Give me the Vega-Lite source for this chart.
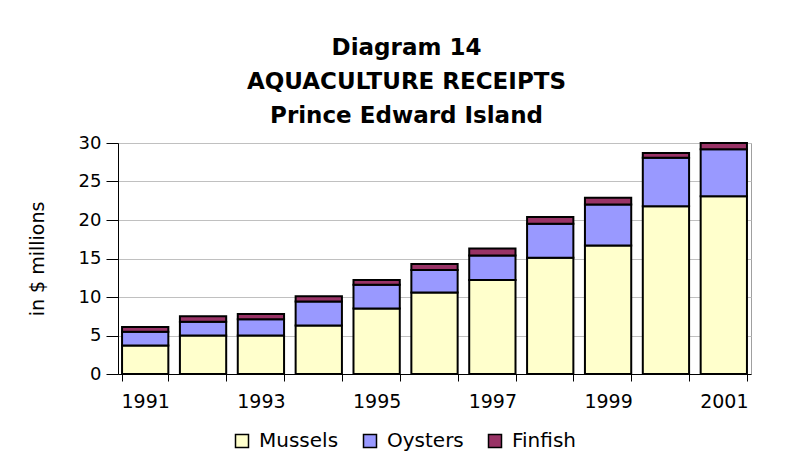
{
  "$schema": "https://vega.github.io/schema/vega-lite/v6.json",
  "autosize": "none",
  "width": 633,
  "height": 231,
  "padding": {"left": 118, "top": 143, "right": 45, "bottom": 94},
  "background": "white",
  "title": {
    "text": ["Diagram 14", "AQUACULTURE RECEIPTS", "Prince Edward Island"],
    "font": "DejaVu Sans",
    "fontSize": 23,
    "fontWeight": "bold",
    "lineHeight": 34,
    "anchor": "middle",
    "dx": -28,
    "offset": 6,
    "color": "black"
  },
  "data": {
    "values": [
      {"year": 1991, "type": "Mussels", "value": 3.7},
      {"year": 1991, "type": "Oysters", "value": 1.8},
      {"year": 1991, "type": "Finfish", "value": 0.6},
      {"year": 1992, "type": "Mussels", "value": 5.0},
      {"year": 1992, "type": "Oysters", "value": 1.8},
      {"year": 1992, "type": "Finfish", "value": 0.7},
      {"year": 1993, "type": "Mussels", "value": 5.0},
      {"year": 1993, "type": "Oysters", "value": 2.1},
      {"year": 1993, "type": "Finfish", "value": 0.7},
      {"year": 1994, "type": "Mussels", "value": 6.3},
      {"year": 1994, "type": "Oysters", "value": 3.1},
      {"year": 1994, "type": "Finfish", "value": 0.7},
      {"year": 1995, "type": "Mussels", "value": 8.5},
      {"year": 1995, "type": "Oysters", "value": 3.1},
      {"year": 1995, "type": "Finfish", "value": 0.6},
      {"year": 1996, "type": "Mussels", "value": 10.6},
      {"year": 1996, "type": "Oysters", "value": 2.9},
      {"year": 1996, "type": "Finfish", "value": 0.8},
      {"year": 1997, "type": "Mussels", "value": 12.2},
      {"year": 1997, "type": "Oysters", "value": 3.2},
      {"year": 1997, "type": "Finfish", "value": 0.9},
      {"year": 1998, "type": "Mussels", "value": 15.1},
      {"year": 1998, "type": "Oysters", "value": 4.4},
      {"year": 1998, "type": "Finfish", "value": 0.9},
      {"year": 1999, "type": "Mussels", "value": 16.7},
      {"year": 1999, "type": "Oysters", "value": 5.3},
      {"year": 1999, "type": "Finfish", "value": 0.9},
      {"year": 2000, "type": "Mussels", "value": 21.8},
      {"year": 2000, "type": "Oysters", "value": 6.3},
      {"year": 2000, "type": "Finfish", "value": 0.6},
      {"year": 2001, "type": "Mussels", "value": 23.1},
      {"year": 2001, "type": "Oysters", "value": 6.1},
      {"year": 2001, "type": "Finfish", "value": 0.8}
    ]
  },
  "transform": [
    {"calculate": "indexof(['Mussels','Oysters','Finfish'], datum.type)", "as": "stackOrder"}
  ],
  "mark": {"type": "bar", "stroke": "black", "strokeWidth": 2, "strokeJoin": "miter"},
  "encoding": {
    "x": {
      "field": "year",
      "type": "ordinal",
      "scale": {"paddingInner": 0.2, "paddingOuter": 0.07},
      "axis": {
        "title": null,
        "labelAngle": 0,
        "labelExpr": "datum.value % 2 == 1 ? datum.label : ''",
        "tickBand": "extent",
        "tickSize": 7,
        "tickColor": "black",
        "domainColor": "black",
        "labelFont": "DejaVu Sans",
        "labelFontSize": 19,
        "labelColor": "black",
        "labelPadding": 11
      }
    },
    "y": {
      "field": "value",
      "type": "quantitative",
      "aggregate": "sum",
      "stack": "zero",
      "scale": {"domain": [0, 30], "nice": false},
      "axis": {
        "title": "in $ millions",
        "values": [0, 5, 10, 15, 20, 25, 30],
        "tickSize": 12,
        "tickColor": "black",
        "domainColor": "black",
        "gridColor": "#c0c0c0",
        "gridWidth": 1,
        "labelFont": "DejaVu Sans",
        "labelFontSize": 18,
        "labelColor": "black",
        "labelPadding": 5,
        "titleFont": "DejaVu Sans",
        "titleFontSize": 19,
        "titleFontWeight": "normal",
        "titleColor": "black",
        "titlePadding": 31
      }
    },
    "color": {
      "field": "type",
      "type": "nominal",
      "scale": {"domain": ["Mussels", "Oysters", "Finfish"], "range": ["#FFFFCC", "#9999FF", "#993366"]},
      "legend": {
        "title": null,
        "orient": "none",
        "direction": "horizontal",
        "legendX": 114,
        "legendY": 288,
        "symbolType": "square",
        "symbolSize": 169,
        "symbolStrokeColor": "black",
        "symbolStrokeWidth": 1.5,
        "symbolOpacity": 1,
        "labelFont": "DejaVu Sans",
        "labelFontSize": 20,
        "labelColor": "black",
        "labelOffset": 7,
        "columnPadding": 21
      }
    },
    "order": {"field": "stackOrder", "type": "quantitative"}
  },
  "config": {
    "view": {"stroke": "#a0a0a0", "strokeWidth": 1}
  }
}
